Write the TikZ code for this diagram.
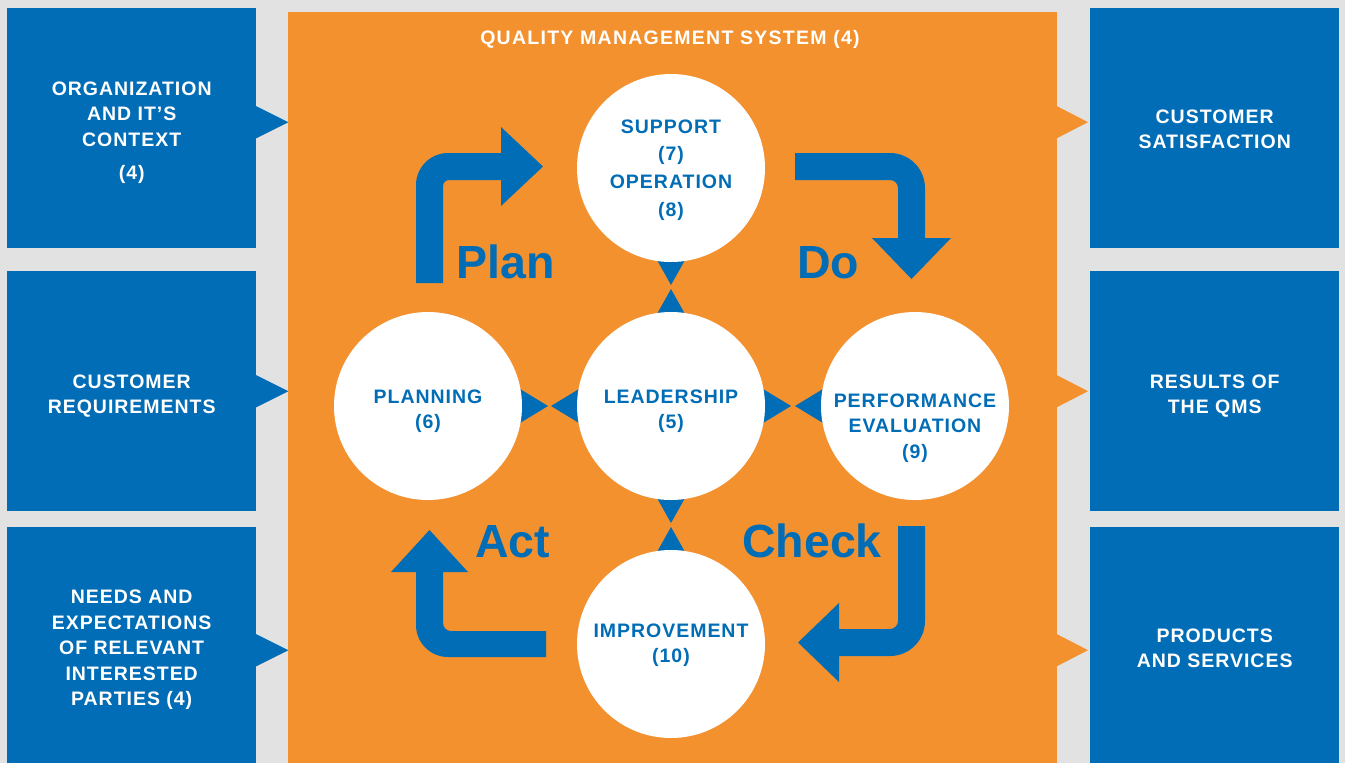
\documentclass[tikz,border=0pt]{standalone}
\usepackage{fontspec}
\setmainfont{Liberation Sans}
\newfontfamily\trackfont[LetterSpace=5]{Liberation Sans}
\newfontfamily\titlefont[LetterSpace=6.5]{Liberation Sans}
\usetikzlibrary{calc}
\definecolor{qblue}{HTML}{006DB6}
\definecolor{qorange}{HTML}{F3912F}
\definecolor{qgray}{HTML}{E2E2E2}
\tikzset{
  sidebox/.style={fill=qblue, inner sep=0pt,
    minimum width=249pt, anchor=north west},
  boxtext/.style={text=white, inner sep=0pt, align=center,
    font={\trackfont\bfseries\fontsize{19.5}{25.5}\selectfont}},
  disc/.style={circle, fill=white, minimum size=188pt, inner sep=0pt},
  ctext/.style={text=qblue, align=center, inner sep=0pt,
    font={\trackfont\bfseries\fontsize{19.5}{25.5}\selectfont}},
  biglabel/.style={text=qblue, anchor=base west, inner sep=0pt,
    font={\bfseries\fontsize{46.5}{46.5}\selectfont}},
  bluefill/.style={fill=qblue},
  orangefill/.style={fill=qorange}
}
\begin{document}
\begin{tikzpicture}[x=1pt,y=-1pt]
\path[use as bounding box, fill=qgray] (0,0) rectangle (1345,763);

% side boxes
\node[sidebox, minimum height=240pt] (lb1) at (7,8) {};
\node[sidebox, minimum height=240pt] (lb2) at (7,271) {};
\node[sidebox, minimum height=241pt] (lb3) at (7,527) {};
\node[sidebox, minimum height=240pt] (rb1) at (1090,8) {};
\node[sidebox, minimum height=240pt] (rb2) at (1090,271) {};
\node[sidebox, minimum height=241pt] (rb3) at (1090,527) {};
\node[boxtext] (tlb1) at ($(lb1.center)+(0,4.5)$) {ORGANIZATION\\AND IT’S\\CONTEXT\\[8pt](4)};
\node[boxtext] (tlb2) at ($(lb2.center)+(0,5)$) {CUSTOMER\\REQUIREMENTS};
\node[boxtext] (tlb3) at ($(lb3.center)+(0,2.5)$) {NEEDS AND\\EXPECTATIONS\\OF RELEVANT\\INTERESTED\\PARTIES (4)};
\node[boxtext] (trb1) at ($(rb1.center)+(0,1)$) {CUSTOMER\\SATISFACTION};
\node[boxtext] (trb2) at ($(rb2.center)+(0,5)$) {RESULTS OF\\THE QMS};
\node[boxtext] (trb3) at ($(rb3.center)+(0,0.5)$) {PRODUCTS\\AND SERVICES};

% central system
\node[orangefill, minimum width=769pt, minimum height=756pt, anchor=north west, inner sep=0pt] (qms) at (288,12) {};
\node[text=white, inner sep=0pt, font={\titlefont\bfseries\fontsize{19.5}{22}\selectfont}] (title) at (670,39) {QUALITY MANAGEMENT SYSTEM (4)};

% input triangles (blue) and output triangles (orange)
\fill[bluefill] ($(lb1.east)+(-1,-22.5)$) -- ($(lb1.east)+(32,-6)$) -- ($(lb1.east)+(-1,10.5)$) -- cycle;
\fill[bluefill] ($(lb2.east)+(-1,-16.5)$) -- ($(lb2.east)+(32,0)$) -- ($(lb2.east)+(-1,16.5)$) -- cycle;
\fill[bluefill] ($(lb3.east)+(-1,-14)$) -- ($(lb3.east)+(32,2.5)$) -- ($(lb3.east)+(-1,19)$) -- cycle;
\fill[orangefill] ($(rb1.west)+(-34,-22.5)$) -- ($(rb1.west)+(-2,-6)$) -- ($(rb1.west)+(-34,10.5)$) -- cycle;
\fill[orangefill] ($(rb2.west)+(-34,-16.5)$) -- ($(rb2.west)+(-2,0)$) -- ($(rb2.west)+(-34,16.5)$) -- cycle;
\fill[orangefill] ($(rb3.west)+(-34,-14)$) -- ($(rb3.west)+(-2,2.5)$) -- ($(rb3.west)+(-34,19)$) -- cycle;

% PDCA arrows
\fill[bluefill] (416,283) -- (416,185) .. controls (416,167.4) and (430.4,153) .. (448,153)
  -- (501,153) -- (501,127) -- (543,166.5) -- (501,206) -- (501,180) -- (449,180)
  .. controls (445.7,180) and (443,182.7) .. (443,186) -- (443,283) -- cycle;
\fill[bluefill] (795,153) -- (890,153) .. controls (909.3,153) and (925,168.7) .. (925,188)
  -- (925,238) -- (951,238) -- (911.5,279) -- (872,238) -- (898,238) -- (898,188)
  .. controls (898,183.6) and (894.4,180) .. (890,180) -- (795,180) -- cycle;
\fill[bluefill] (898,526) -- (925,526) -- (925,621) .. controls (925,640.3) and (909.3,656) .. (890,656)
  -- (839,656) -- (839,682) -- (798,642.5) -- (839,603) -- (839,629) -- (890,629)
  .. controls (894.4,629) and (898,625.4) .. (898,621) -- cycle;
\fill[bluefill] (429.5,530) -- (468,572) -- (443,572) -- (443,623)
  .. controls (443,627.4) and (446.6,631) .. (451,631) -- (546,631) -- (546,657) -- (448,657)
  .. controls (430.3,657) and (416,642.7) .. (416,625) -- (416,572) -- (391,572) -- cycle;

\node[biglabel] (lplan) at (456,278) {Plan};
\node[biglabel] (ldo) at (797,278) {Do};
\node[biglabel] (lact) at (475,557) {Act};
\node[biglabel] (lcheck) at (742,557) {Check};

% circle positions
\coordinate (csup) at (671,168);
\coordinate (clead) at (671,406);
\coordinate (cplan) at (428,406);
\coordinate (cperf) at (915,406);
\coordinate (cimp) at (671,644);

% small triangles between circles (drawn under circles)
\fill[bluefill] ($(cplan)+(92,-17)$) -- ($(cplan)+(120,0)$) -- ($(cplan)+(92,17)$) -- cycle;
\fill[bluefill] ($(clead)+(-92,-17)$) -- ($(clead)+(-120,0)$) -- ($(clead)+(-92,17)$) -- cycle;
\fill[bluefill] ($(clead)+(92,-17)$) -- ($(clead)+(120,0)$) -- ($(clead)+(92,17)$) -- cycle;
\fill[bluefill] ($(cperf)+(-92,-17)$) -- ($(cperf)+(-120,0)$) -- ($(cperf)+(-92,17)$) -- cycle;
\fill[bluefill] ($(csup)+(-14,92)$) -- ($(csup)+(0,117)$) -- ($(csup)+(14,92)$) -- cycle;
\fill[bluefill] ($(clead)+(-14,-92)$) -- ($(clead)+(0,-117)$) -- ($(clead)+(14,-92)$) -- cycle;
\fill[bluefill] ($(clead)+(-14,92)$) -- ($(clead)+(0,117)$) -- ($(clead)+(14,92)$) -- cycle;
\fill[bluefill] ($(cimp)+(-14,-92)$) -- ($(cimp)+(0,-117)$) -- ($(cimp)+(14,-92)$) -- cycle;

% circles
\node[disc] (sup) at (csup) {};
\node[disc] (lead) at (clead) {};
\node[disc] (plan) at (cplan) {};
\node[disc] (perf) at (cperf) {};
\node[disc] (imp) at (cimp) {};

% circle texts
\node[ctext, font={\trackfont\bfseries\fontsize{19.5}{27.7}\selectfont}] (tsup) at (671,170) {SUPPORT\\(7)\\OPERATION\\(8)};
\node[ctext] (tlead) at (671,411) {LEADERSHIP\\(5)};
\node[ctext] (tplan) at (428,411) {PLANNING\\(6)};
\node[ctext] (tperf) at (915,428) {PERFORMANCE\\EVALUATION\\(9)};
\node[ctext] (timp) at (671,645) {IMPROVEMENT\\(10)};
\end{tikzpicture}
\end{document}
